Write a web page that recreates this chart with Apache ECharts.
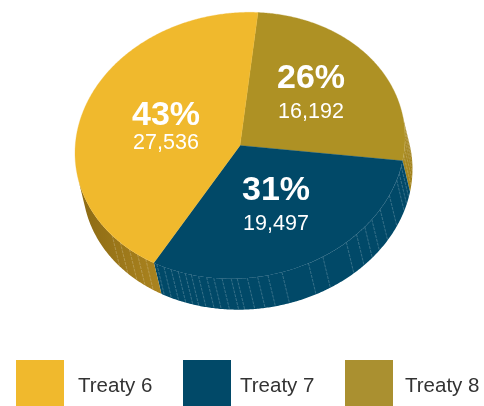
<!DOCTYPE html>
<html>
<head>
<meta charset="utf-8">
<style>html,body{margin:0;padding:0;background:#fff}#c{width:484px;height:406px}</style>
<script src="https://cdn.jsdelivr.net/npm/echarts@6/dist/echarts.min.js"></script>
</head>
<body>
<div id="c"></div>
<script>
// Land claim shares by treaty, clockwise from the top of the disc
const categories = ['Treaty 8', 'Treaty 7', 'Treaty 6'];
const percents = [26, 31, 43];
const countLabels = ['16,192', '19,497', '27,536'];

// Styling per slice
const topColors = ['#ae9124', '#014968', '#f0b92d'];
const legendColors = ['#aa9030', '#014968', '#f0b92d'];
const wallColors = [
  ['#a88a22', '#a08018'],
  ['#014968', '#014968'],
  ['#8c6a14', '#ab841f']
];
const labelCentres = [[311, 79, 112], [276, 191, 224], [166, 116, 143]];
const legendLefts = [345, 183, 16];
const legendPads = [7, 4, 9];

// Oblique projection of the disc: screen = centre + sin(a)*U + cos(a)*V, walls pushed along E
const C = [240, 145.5];
const U = [164, 7];
const V = [18, -133];
const E = [7.5, 31];

// Wall seams, in degrees clockwise from the first slice boundary
const seams = [
  [76, 79, 82, 85, 88, 91],
  [96, 99, 102, 108.9, 115.6, 120.7, 124.6, 128.8, 133.6, 143.6, 149.2, 159, 164, 167.6,
   171.2, 174.7, 176.8, 180, 182.9, 185.4, 188.3, 190.9, 193.1, 195.7, 198.4, 201.2, 204],
  [208.6, 212.1, 215.8, 220.2, 224.5]
];

const total = percents.reduce((a, b) => a + b, 0);
const rad = d => d * Math.PI / 180;
const rim = d => [
  C[0] + Math.sin(rad(d)) * U[0] + Math.cos(rad(d)) * V[0],
  C[1] + Math.sin(rad(d)) * U[1] + Math.cos(rad(d)) * V[1]
];
const push = p => [p[0] + E[0], p[1] + E[1]];

// Wall faces the viewer where the rim normal points along E (solved in disc coordinates)
const det = U[0] * V[1] - U[1] * V[0];
const eU = (E[0] * V[1] - E[1] * V[0]) / det;
const eV = (U[0] * E[1] - U[1] * E[0]) / det;
const faces = d => Math.sin(rad(d)) * eU + Math.cos(rad(d)) * eV > 0;

const spans = [];
percents.reduce((acc, v, i) => {
  const sweep = v / total * 360;
  spans[i] = [acc, acc + sweep];
  return acc + sweep;
}, 0);

function arc(a, b) {
  const pts = [];
  const n = Math.ceil(Math.abs(b - a) * 2);
  for (let k = 0; k <= n; k++) pts.push(a + (b - a) * k / n);
  return pts;
}

function renderSlice(i) {
  const [a, b] = spans[i];
  const children = [];
  const visible = arc(a, b).filter(faces);
  if (visible.length > 1) {
    const top = visible.map(rim);
    const wall = top.concat(visible.slice().reverse().map(d => push(rim(d))));
    children.push({
      type: 'polygon', shape: { points: wall },
      style: {
        fill: new echarts.graphic.LinearGradient(0, 0, 1, 0, [
          { offset: 0, color: wallColors[i][0] },
          { offset: 1, color: wallColors[i][1] }
        ]),
        stroke: null
      }
    });
    seams[i].filter(faces).forEach(d => {
      const s = rim(d), e = push(s);
      children.push({
        type: 'line',
        shape: { x1: s[0], y1: s[1], x2: e[0], y2: e[1] },
        style: { stroke: 'rgba(255,255,255,0.3)', lineWidth: 0.7, lineDash: [3, 1] }
      });
    });
    if (i < 2) {
      children.push({
        type: 'polyline', shape: { points: top.filter((p, k) => visible[k] < 150) },
        style: { stroke: 'rgba(255,255,255,0.3)', lineWidth: 0.7, lineDash: [2, 1], fill: null }
      });
    }
  }
  children.push({
    type: 'polygon',
    shape: { points: [C].concat(arc(a, b).map(rim)) },
    style: { fill: topColors[i], stroke: topColors[i], lineWidth: 0.3 }
  });
  const [lx, py, cy] = labelCentres[i];
  children.push({
    type: 'text',
    style: {
      x: lx, y: py, text: percents[i] + '%', fill: '#fff', align: 'center', verticalAlign: 'middle',
      font: 'bold 34px "Liberation Sans", Arial, sans-serif'
    }
  });
  children.push({
    type: 'text',
    style: {
      x: lx, y: cy, text: countLabels[i], fill: '#fff', align: 'center', verticalAlign: 'middle',
      font: '21.5px "Liberation Sans", Arial, sans-serif'
    }
  });
  return { type: 'group', children };
}

const chart = echarts.init(document.getElementById('c'), null, { renderer: 'canvas' });
chart.setOption({
  animation: false,
  backgroundColor: '#fff',
  legend: categories.map((name, i) => ({
    data: [name],
    left: legendLefts[i],
    top: 360,
    padding: 0,
    itemWidth: 48,
    itemHeight: 46,
    selectedMode: false,
    icon: 'rect',
    formatter: '{t|{name}}',
    textStyle: {
      rich: {
        t: {
          color: '#333',
          fontSize: 20.5,
          fontFamily: '"Liberation Sans", Arial, sans-serif',
          padding: [6, 0, 0, legendPads[i]]
        }
      }
    }
  })),
  series: categories.map((name, i) => ({
    type: 'custom',
    name,
    coordinateSystem: 'none',
    silent: true,
    itemStyle: { color: legendColors[i] },
    data: [percents[i]],
    renderItem: () => renderSlice(i)
  }))
});
</script>
</body>
</html>
